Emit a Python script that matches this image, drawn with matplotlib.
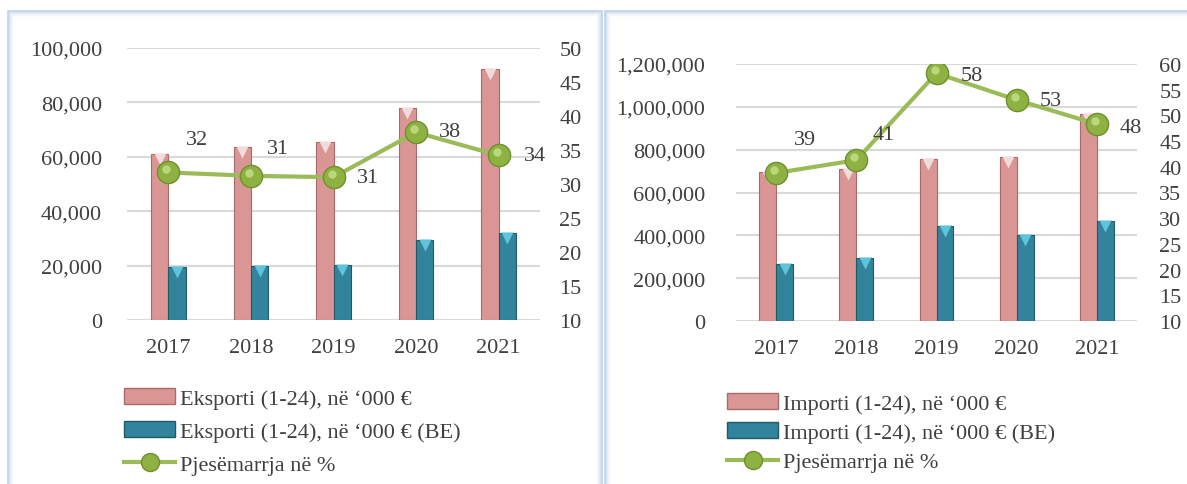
import matplotlib
matplotlib.use('Agg')
import matplotlib.pyplot as plt
import matplotlib.transforms as mtransforms
from matplotlib.patches import Rectangle, Patch
from matplotlib.lines import Line2D
from matplotlib.ticker import FuncFormatter, MultipleLocator
import numpy as np

# data
years = ['2017', '2018', '2019', '2020', '2021']

eksporti = [61000, 63600, 65400, 78000, 92300]
eksporti_be = [19500, 19900, 20200, 29400, 32000]
pjesemarrja_eks = [31.7, 31.2, 31.0, 37.6, 34.2]

importi = [696000, 710000, 756000, 766000, 966000]
importi_be = [266000, 294000, 443000, 401000, 467000]
pjesemarrja_imp = [38.8, 41.3, 58.2, 53.0, 48.3]

labels_eks = ['Eksporti (1-24), në ‘000 €', 'Eksporti (1-24), në ‘000 € (BE)', 'Pjesëmarrja në %']
labels_imp = ['Importi (1-24), në ‘000 €', 'Importi (1-24), në ‘000 € (BE)', 'Pjesëmarrja në %']

# label offsets in pixels (Excel auto placement)
offs_eks = [(29, 33), (27, 27), (35, 0), (34, 1), (36, 0)]
offs_imp = [(29, 33), (27, 26), (35, -2), (34, -1), (34, -3)]

plt.rcParams['font.family'] = ['Liberation Serif', 'DejaVu Serif']
TXT = '#404040'
PINK = '#d99694'
PINK_DK = '#a96b69'
TEAL = '#31849b'
TEAL_DK = '#215a6a'
GREEN = '#9bbb59'
GRID = '#d9d9d9'
FS = 16

fig = plt.figure(figsize=(11.87, 4.85), dpi=100)
W, H = 1187, 485


def px(x0, y0, x1, y1):
    return [x0 / W, 1 - y1 / H, (x1 - x0) / W, (y1 - y0) / H]


# panel frames with a soft blue glow
for (x0, x1) in [(8, 602), (605, 1195)]:
    for i, a in enumerate([0.9, 0.5, 0.3, 0.18, 0.1, 0.05]):
        fig.patches.append(Rectangle(((x0 + i) / W, 0 - 0.02), (x1 - x0 - 2 * i) / W,
                                     1 - (12 + i) / H + 0.02, transform=fig.transFigure,
                                     fill=False, edgecolor='#b9cfe9', alpha=a, lw=1.2))


def draw(rect, b1, b2, pct, ymax, ystep, y2max, labels, offs, ypad, y2pad, leg_xy, leg_sp):
    ax = fig.add_axes(rect)
    x = np.arange(len(years))
    w = 0.21
    ax.bar(x - w / 2, b1, w, color=PINK, edgecolor=PINK_DK, lw=0.8, zorder=2)
    ax.bar(x + w / 2, b2, w, color=TEAL, edgecolor=TEAL_DK, lw=0.8, zorder=2)
    # bevel triangles at bar tops
    tr = mtransforms.offset_copy(ax.transData, fig=fig, x=0, y=-5, units='dots')
    ax.plot(x - w / 2, b1, 'v', ms=8, color='#f2dcdb', mec='none', transform=tr, zorder=3)
    ax.plot(x + w / 2, b2, 'v', ms=8, color='#5fc3dc', mec='none', transform=tr, zorder=3)

    ax.set_xlim(-0.5, len(years) - 0.5)
    ax.set_ylim(0, ymax)
    ax.yaxis.set_major_locator(MultipleLocator(ystep))
    ax.yaxis.set_major_formatter(FuncFormatter(lambda v, p: f'{v:,.0f}'))
    ax.grid(axis='y', color=GRID, lw=1.5, zorder=0)
    ax.set_axisbelow(True)
    ax.set_xticks(x)
    ax.set_xticklabels(years)
    for s in ax.spines.values():
        s.set_visible(False)
    ax.tick_params(axis='both', length=0, labelsize=FS, colors=TXT)
    ax.tick_params(axis='x', pad=13)
    ax.tick_params(axis='y', pad=ypad)

    ax2 = ax.twinx()
    ax2.set_ylim(10, y2max)
    ax2.yaxis.set_major_locator(MultipleLocator(5))
    for s in ax2.spines.values():
        s.set_visible(False)
    ax2.tick_params(axis='y', length=0, labelsize=FS, colors=TXT, pad=y2pad)
    ax2.plot(x, pct, color=GREEN, lw=3, marker='o', ms=16, mfc='#8db241', mec='#6f8f30',
             mew=1, zorder=4)
    hl = mtransforms.offset_copy(ax2.transData, fig=fig, x=-2, y=3, units='dots')
    ax2.plot(x, pct, 'o', ms=6, color='#c8e08a', mec='none', transform=hl, zorder=5, alpha=0.8)
    for xi, v, (dx, dy) in zip(x, pct, offs):
        ax2.annotate(f'{v:.0f}', (xi, v), xytext=(dx, dy), textcoords='offset pixels',
                     ha='center', va='center', fontsize=FS, color=TXT, zorder=6)

    handles = [Patch(facecolor=PINK, edgecolor=PINK_DK),
               Patch(facecolor=TEAL, edgecolor=TEAL_DK),
               Line2D([], [], color=GREEN, lw=3, marker='o', ms=13, mfc='#8db241', mec='#6f8f30')]
    fig.legend(handles, labels, loc='upper left', bbox_to_anchor=(leg_xy[0] / W, 1 - leg_xy[1] / H),
               frameon=False, fontsize=FS, labelcolor=TXT, handlelength=2.3, handletextpad=0.2,
               labelspacing=leg_sp, borderpad=0, borderaxespad=0)
    return ax


draw(px(127, 49, 540, 321), eksporti, eksporti_be, pjesemarrja_eks, 100000, 20000, 50,
     labels_eks, offs_eks, 18, 14, (124, 389), 0.57)
draw(px(736, 65, 1137, 322), importi, importi_be, pjesemarrja_imp, 1200000, 200000, 60,
     labels_imp, offs_imp, 22, 16, (727, 394), 0.4)

fig.savefig('out.png', dpi=100)
